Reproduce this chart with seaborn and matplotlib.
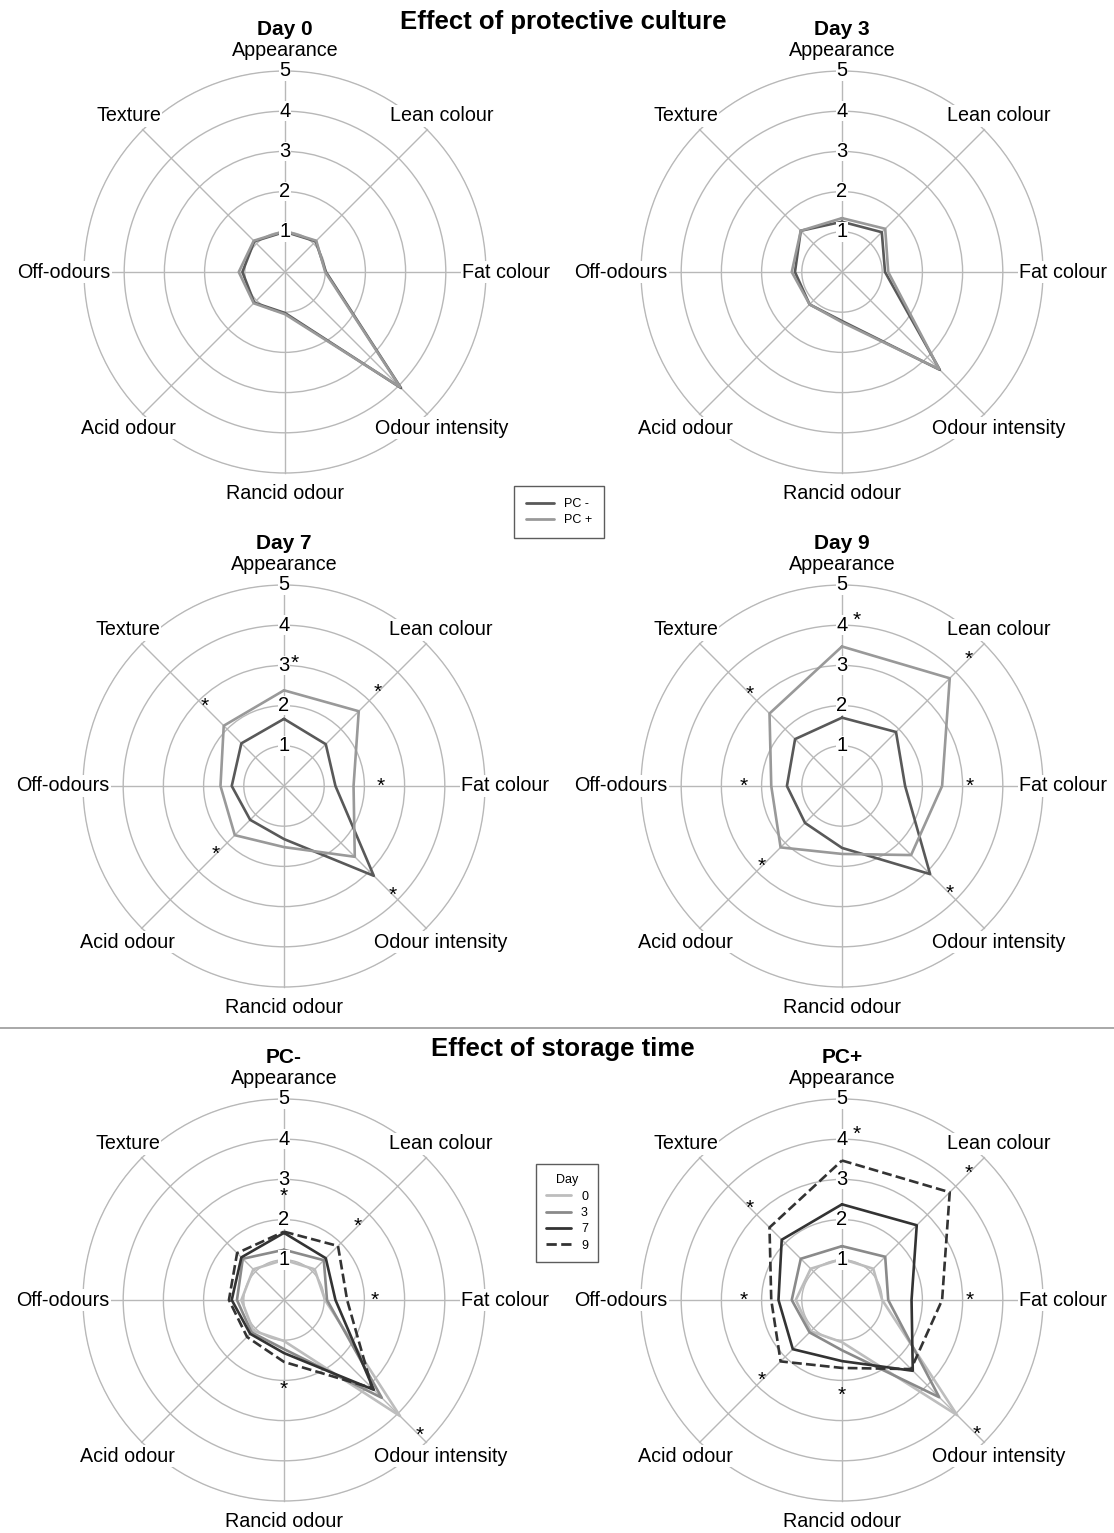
import numpy as np
import pandas as pd
import matplotlib
matplotlib.use("Agg")
import matplotlib.pyplot as plt
from matplotlib.lines import Line2D
import seaborn as sns

# sensory attributes, clockwise from the top
attributes = ["Appearance", "Lean colour", "Fat colour", "Odour intensity",
              "Rancid odour", "Acid odour", "Off-odours", "Texture"]

# mean scores (PC- = without protective culture)
pc_minus = {
    0: [1.00, 1.08, 1.02, 4.08, 1.02, 1.08, 1.06, 1.08],
    3: [1.25, 1.40, 1.07, 3.44, 1.22, 1.14, 1.17, 1.45],
    7: [1.67, 1.47, 1.28, 3.16, 1.32, 1.19, 1.30, 1.50],
    9: [1.70, 1.90, 1.57, 3.10, 1.54, 1.30, 1.37, 1.65],
}
pc_plus = {
    0: [1.02, 1.10, 1.00, 4.05, 1.05, 1.10, 1.15, 1.10],
    3: [1.34, 1.52, 1.15, 3.42, 1.25, 1.14, 1.25, 1.45],
    7: [2.38, 2.63, 1.73, 2.49, 1.52, 1.73, 1.58, 2.12],
    9: [3.47, 3.79, 2.49, 2.43, 1.69, 2.16, 1.76, 2.55],
}
days = [0, 3, 7, 9]

# significant differences (asterisks) per panel
sig_day = {
    0: [False] * 8,
    3: [False] * 8,
    7: [True, True, True, True, False, True, False, True],
    9: [True, True, True, True, False, True, True, True],
}
sig_pc_minus = [True, True, True, True, True, False, False, False]
sig_pc_plus = [True] * 8

col_minus, col_plus = "#595959", "#999999"
day_style = {0: ("#bdbdbd", "-"), 3: ("#8a8a8a", "-"),
             7: ("#333333", "-"), 9: ("#333333", "--")}

sns.set_style("white")
plt.rcParams["font.family"] = ["Liberation Sans", "DejaVu Sans"]
plt.rcParams["text.color"] = "black"

W, H = 1114, 1533
fig = plt.figure(figsize=(W / 100, H / 100), dpi=100)

theta = np.linspace(0, 2 * np.pi, len(attributes), endpoint=False)
RMAX = 5.03
R_PX = 201 * RMAX / 5


def radar_axes(cx, cy, title):
    ax = fig.add_axes([(cx - R_PX) / W, 1 - (cy + R_PX) / H, 2 * R_PX / W, 2 * R_PX / H],
                      projection="polar")
    ax.set_theta_offset(np.pi / 2)
    ax.set_theta_direction(-1)
    ax.set_ylim(0, RMAX)
    ax.set_xticks(theta)
    ax.set_xticklabels([])
    ax.set_yticks([1, 2, 3, 4, 5])
    ax.set_yticklabels([])
    ax.spines["polar"].set_visible(False)
    ax.grid(True, color="#b8b8b8", lw=1.0)
    ax.set_facecolor("white")
    for t, name in zip(theta, attributes):
        ax.text(t, 5.5, name, ha="center", va="center", fontsize=14.2,
                bbox=dict(facecolor="white", edgecolor="none", pad=1.0), zorder=5)
    for r in range(1, 6):
        ax.text(0, r, str(r), ha="center", va="center", fontsize=14.5, zorder=6,
                bbox=dict(facecolor="white", edgecolor="none", pad=0.2))
    ax.text(0, 6.03, title, ha="center", va="center", fontsize=15, fontweight="bold")
    return ax


def draw_line(ax, vals, color, ls="-"):
    # close the polygon at 2*pi so no x value is repeated
    df = pd.DataFrame({"theta": np.append(theta, 2 * np.pi),
                       "score": np.append(vals, vals[0])})
    sns.lineplot(data=df, x="theta", y="score", ax=ax, sort=False, estimator=None,
                 color=color, lw=1.9, linestyle=ls, zorder=3)
    ax.set_xlabel("")
    ax.set_ylabel("")


def draw_stars(ax, series, flags):
    top = np.max(np.array(series), axis=0)
    for i, (t, f) in enumerate(zip(theta, flags)):
        if not f:
            continue
        r = top[i] + 0.68
        tt = t
        if i == 0:
            # keep the star clear of the 1-5 scale labels on the top spoke
            if abs(r - round(r)) < 0.25:
                tt = t + 0.09
            else:
                r = np.floor(r) + 0.58
        ax.text(tt, r, "*", ha="center", va="center", fontsize=15, zorder=7)


centers = {0: (285, 272), 3: (842, 272), 7: (284, 786), 9: (842, 786)}
for d in days:
    ax = radar_axes(*centers[d], f"Day {d}")
    draw_line(ax, pc_minus[d], col_minus)
    draw_line(ax, pc_plus[d], col_plus)
    draw_stars(ax, [pc_minus[d], pc_plus[d]], sig_day[d])

for (cx, cy), name, data, flags in [((284, 1300), "PC-", pc_minus, sig_pc_minus),
                                    ((842, 1300), "PC+", pc_plus, sig_pc_plus)]:
    ax = radar_axes(cx, cy, name)
    for d in days:
        c, ls = day_style[d]
        draw_line(ax, data[d], c, ls)
    draw_stars(ax, [data[d] for d in days], flags)

fig.text(563 / W, 1 - 22 / H, "Effect of protective culture", ha="center", va="center",
         fontsize=18.5, fontweight="bold")
fig.text(563 / W, 1 - 1049 / H, "Effect of storage time", ha="center", va="center",
         fontsize=18.5, fontweight="bold")
fig.add_artist(Line2D([0, 1], [1 - 1028 / H] * 2, color="#9a9a9a", lw=1.2))

h1 = [Line2D([], [], color=col_minus, lw=2), Line2D([], [], color=col_plus, lw=2)]
fig.legend(h1, ["PC -", "PC +"], loc="center", bbox_to_anchor=(559 / W, 1 - 512 / H),
           fontsize=9, frameon=True, fancybox=False, edgecolor="#333333",
           handlelength=2.2, labelspacing=0.3, borderpad=1.0, handletextpad=0.8)

h2 = [Line2D([], [], color=day_style[d][0], ls=day_style[d][1], lw=2) for d in days]
fig.legend(h2, [str(d) for d in days], title="Day", loc="center",
           bbox_to_anchor=(567 / W, 1 - 1213 / H), fontsize=9, title_fontsize=9,
           frameon=True, fancybox=False, edgecolor="#333333",
           handlelength=2.0, labelspacing=0.35, borderpad=0.8, handletextpad=0.8)

fig.savefig("out.png", dpi=100, facecolor="white")
